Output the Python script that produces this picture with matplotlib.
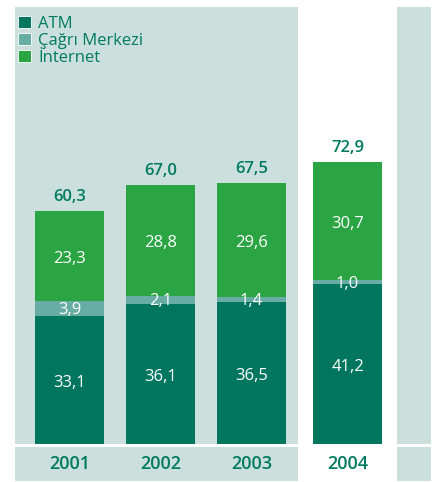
import matplotlib
matplotlib.use("Agg")
import matplotlib.pyplot as plt
from matplotlib.patches import Rectangle, Patch

plt.rcParams['font.family'] = ['Open Sans', 'DejaVu Sans']

years = ['2001', '2002', '2003', '2004']
atm = [33.1, 36.1, 36.5, 41.2]
cagri = [3.9, 2.1, 1.4, 1.0]
internet = [23.3, 28.8, 29.6, 30.7]
totals = ['60,3', '67,0', '67,5', '72,9']
series_names = ['ATM', 'Çağrı Merkezi', 'İnternet']

C_ATM = '#00765F'
C_CAG = '#68ADA4'
C_INT = '#2BA443'
C_PANEL = '#CBE0DC'
C_TEXT = '#007A60'

W, H = 443, 482
fig = plt.figure(figsize=(W / 100, H / 100), dpi=100)
fig.patch.set_facecolor('white')

ax = fig.add_axes([0, 0, 1, 1])
ax.set_facecolor('none')
ax.set_axis_off()

def px_rect(x0, y0, x1, y1, color):
    # pixel coords measured from top-left
    ax.add_patch(Rectangle((x0 / W, 1 - y1 / H), (x1 - x0) / W, (y1 - y0) / H,
                           transform=fig.transFigure, facecolor=color,
                           edgecolor='none', zorder=0, clip_on=False))

# background panels
px_rect(15, 7, 298, 443.5, C_PANEL)
px_rect(397, 7, 431, 443.5, C_PANEL)
px_rect(15, 446.5, 298, 481, C_PANEL)
px_rect(397, 446.5, 431, 481, C_PANEL)

scale = 3.864  # px per unit
base_px = 443.5
ax.set_ylim(-(H - base_px) / scale, base_px / scale)
step = 91.0
c0 = 69.5
ax.set_xlim((0 - c0) / step, (W - c0) / step)

pos = [0, 1, 2, 3.055]
width = 69 / step

def fmt(v):
    return f"{v:.1f}".replace('.', ',')

ax.bar(pos, atm, width, color=C_ATM, linewidth=0, zorder=2)
ax.bar(pos, cagri, width, bottom=atm, color=C_CAG, linewidth=0, zorder=2)
bot3 = [a + c for a, c in zip(atm, cagri)]
ax.bar(pos, internet, width, bottom=bot3, color=C_INT, linewidth=0, zorder=2)

for i, x in enumerate(pos):
    ax.text(x, atm[i] / 2 - 0.8, fmt(atm[i]), ha='center', va='center',
            color='white', fontsize=12, zorder=3)
    ax.text(x, atm[i] + cagri[i] / 2 - 0.4, fmt(cagri[i]), ha='center', va='center',
            color='white', fontsize=12, zorder=3)
    ax.text(x, bot3[i] + internet[i] / 2 - 0.8, fmt(internet[i]), ha='center', va='center',
            color='white', fontsize=12, zorder=3)
    top = bot3[i] + internet[i]
    ax.text(x, top + 3.6, totals[i], ha='center', va='center',
            color=C_TEXT, fontsize=12, fontweight='semibold', zorder=3)
    ax.text(x, -(464 - base_px) / scale, years[i], ha='center', va='center',
            color=C_TEXT, fontsize=13, fontweight='semibold', zorder=3)

handles = [Patch(facecolor=C_ATM, edgecolor='white', linewidth=0.6),
           Patch(facecolor=C_CAG, edgecolor='white', linewidth=0.6),
           Patch(facecolor=C_INT, edgecolor='white', linewidth=0.6)]
leg = ax.legend(handles, series_names, loc='upper left',
                bbox_to_anchor=(18 / W, 1 - 15.5 / H), bbox_transform=fig.transFigure,
                frameon=False, handlelength=0.75, handleheight=0.75, handletextpad=0.45,
                labelspacing=0.08, borderpad=0, borderaxespad=0, fontsize=12)
for t in leg.get_texts():
    t.set_color(C_TEXT)

fig.savefig('out.png', dpi=100, facecolor='white')
